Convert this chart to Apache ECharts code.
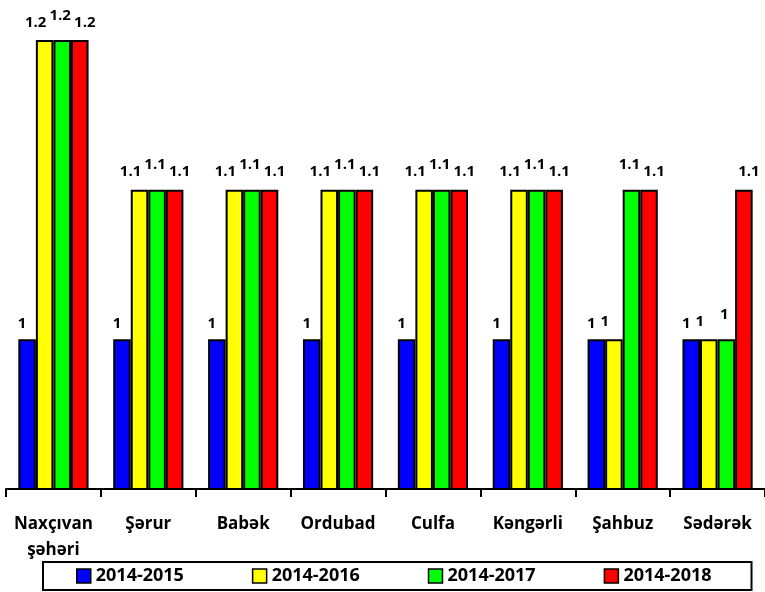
<html>
<head>
<meta charset="utf-8">
<title>chart</title>
<script src="https://cdn.jsdelivr.net/npm/echarts@6/dist/echarts.min.js"></script>
</head>
<body style="margin:0">
<div id="chartmain" style="width:765px; height:592px;"></div>
<script type="text/javascript">
var categories = ['Naxçıvan\nşəhəri', 'Şərur', 'Babək', 'Ordubad', 'Culfa', 'Kəngərli', 'Şahbuz', 'Sədərək'];
var seriesNames = ['2014-2015', '2014-2016', '2014-2017', '2014-2018'];
var v2015 = [1, 1, 1, 1, 1, 1, 1, 1];
var v2016 = [1.2, 1.1, 1.1, 1.1, 1.1, 1.1, 1, 1];
var v2017 = [1.2, 1.1, 1.1, 1.1, 1.1, 1.1, 1.1, 1];
var v2018 = [1.2, 1.1, 1.1, 1.1, 1.1, 1.1, 1.1, 1.1];
var colors = ['#0000ff', '#ffff00', '#00ff00', '#ff0000'];

var font = '"Open Sans", sans-serif';
var allData = [v2015, v2016, v2017, v2018];
// label nudges to look like the original staggered labels
var offsets = [[-5, 0], [-9, 0], [-2, 0], [5, 0]];
var dists = [8, 10, 17, 10];

var myChart = echarts.init(document.getElementById('chartmain'));
var series = [];
for (var i = 0; i < 4; i++) {
    series.push({
        name: seriesNames[i],
        type: 'bar',
        data: allData[i],
        barGap: '0%',
        barCategoryGap: '26%',
        itemStyle: { color: colors[i], borderColor: '#000', borderWidth: 2 },
        label: {
            show: true,
            position: 'top',
            distance: dists[i],
            offset: offsets[i],
            color: '#000',
            fontFamily: font,
            fontWeight: 'bold',
            fontSize: 15
        }
    });
}

myChart.setOption({
    animation: false,
    grid: { left: 6, right: 0, top: 40, bottom: 103 },
    legend: {
        bottom: 2,
        left: 43,
        padding: [5, 40, 5, 33],
        itemGap: 68,
        itemWidth: 14,
        itemHeight: 14,
        borderColor: '#000',
        borderWidth: 2,
        icon: 'rect',
        itemStyle: { borderColor: '#000', borderWidth: 1.5 },
        textStyle: { color: '#000', fontFamily: font, fontWeight: 'bold', fontSize: 18 },
        data: seriesNames
    },
    xAxis: {
        type: 'category',
        data: categories,
        axisLine: { lineStyle: { color: '#000', width: 2 } },
        axisTick: { show: true, length: 8, lineStyle: { color: '#000', width: 2 } },
        axisLabel: {
            color: '#000',
            fontFamily: font,
            fontWeight: 'bold',
            fontSize: 17,
            margin: 22,
            lineHeight: 26,
            interval: 0
        }
    },
    yAxis: {
        type: 'value',
        min: 0.9,
        max: 1.2,
        show: false,
        splitLine: { show: false }
    },
    series: series
});
</script>
</body>
</html>
